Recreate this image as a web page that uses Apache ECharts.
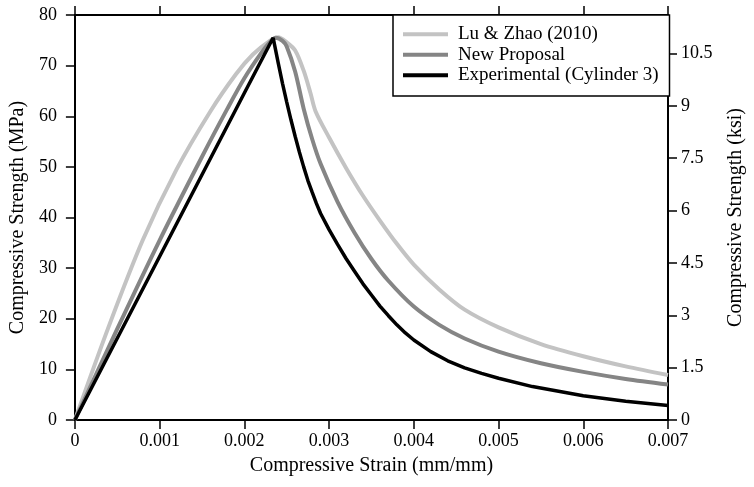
<!DOCTYPE html>
<html>
<head>
<meta charset="utf-8">
<script src="https://cdn.jsdelivr.net/npm/echarts@6/dist/echarts.min.js"></script>
<style>
  html, body { margin: 0; padding: 0; background: #fff; }
  #chart { width: 754px; height: 487px; }
</style>
</head>
<body>
<div id="chart"></div>
<script>
// 曲线数据 (strain mm/mm, stress MPa)
const luZhaoStrain = [0, 0.0004, 0.0008, 0.0012, 0.0016, 0.0019, 0.0021, 0.0023, 0.0024, 0.0025, 0.0026, 0.0027, 0.00278, 0.00284, 0.003, 0.0032, 0.0034, 0.0036, 0.0038, 0.004, 0.0043, 0.0046, 0.005, 0.0055, 0.006, 0.0065, 0.007]
const luZhaoStress = [0, 18.5, 35.5, 49.5, 61, 68.3, 72.2, 74.9, 75.6, 74.6, 73.0, 69.0, 64.6, 61.0, 55.8, 49.8, 44.3, 39.4, 34.8, 30.7, 25.8, 21.8, 18.3, 15.0, 12.6, 10.6, 8.9]

const proposalStrain = [0, 0.0005, 0.001, 0.0015, 0.0018, 0.002, 0.0022, 0.0023, 0.00237, 0.00245, 0.0025, 0.0026, 0.0027, 0.0028, 0.0029, 0.0031, 0.0033, 0.0035, 0.0037, 0.004, 0.0043, 0.0046, 0.005, 0.0055, 0.006, 0.0065, 0.007]
const proposalStress = [0, 18, 35.5, 52, 61.5, 67.5, 72.5, 74.6, 75.5, 74.9, 73.8, 68.8, 61.5, 55.5, 50.6, 43.1, 37.0, 31.8, 27.5, 22.4, 18.8, 16.1, 13.5, 11.2, 9.5, 8.1, 7.0]

const expStrain = [0, 0.001, 0.002, 0.00234, 0.0024, 0.00245, 0.0025, 0.00255, 0.0026, 0.00265, 0.0027, 0.00275, 0.0028, 0.00285, 0.0029, 0.003, 0.0031, 0.0032, 0.0033, 0.0034, 0.0035, 0.0036, 0.0037, 0.0038, 0.0039, 0.004, 0.0042, 0.0044, 0.0046, 0.0048, 0.005, 0.0054, 0.006, 0.0065, 0.007]
const expStress = [0, 32.3, 64.6, 75.5, 70.5, 66.5, 62.8, 59.3, 56.0, 52.9, 50.0, 47.3, 45.0, 42.8, 40.8, 37.6, 34.7, 31.9, 29.4, 26.9, 24.7, 22.5, 20.6, 18.8, 17.2, 15.8, 13.5, 11.7, 10.3, 9.2, 8.25, 6.6, 4.8, 3.7, 2.85]

const seriesNames = ['Lu & Zhao (2010)', 'New Proposal', 'Experimental (Cylinder 3)']
const ksiTicks = [0, 1.5, 3, 4.5, 6, 7.5, 9, 10.5]
const MPA_PER_KSI = 6.894757

const pairs = (xs, ys) => xs.map((x, i) => [x, ys[i]])

const chart = echarts.init(document.getElementById('chart'))
const font = 'Liberation Serif'
const axisLine = { show: true, onZero: false, lineStyle: { color: '#000', width: 2 } }
const axisTick = { show: true, inside: false, length: 9, lineStyle: { color: '#000', width: 1.5 } }
const labelStyle = { fontFamily: font, fontSize: 18, color: '#000' }
const nameStyle = { fontFamily: font, fontSize: 20, color: '#000' }

const option = {
  animation: false,
  textStyle: { fontFamily: font },
  grid: { left: 73, right: 85, top: 15, bottom: 67 },
  legend: {
    data: seriesNames,
    orient: 'vertical',
    left: 393,
    top: 15,
    padding: [9.3, 11, 10.7, 10],
    itemGap: 0.5,
    itemWidth: 45,
    itemHeight: 4,
    icon: 'rect',
    backgroundColor: '#fff',
    borderColor: '#000',
    borderWidth: 1.5,
    textStyle: { fontFamily: font, fontSize: 19, color: '#000', lineHeight: 20, padding: [0, 0, 0, 5] }
  },
  xAxis: [
    {
      type: 'value',
      min: 0,
      max: 0.007,
      interval: 0.001,
      name: 'Compressive Strain (mm/mm)',
      nameLocation: 'middle',
      nameGap: 36,
      nameTextStyle: nameStyle,
      axisLine: axisLine,
      axisTick: axisTick,
      axisLabel: Object.assign({ margin: 12 }, labelStyle),
      splitLine: { show: false }
    },
    {
      // 上边框
      type: 'value',
      position: 'top',
      min: 0,
      max: 0.007,
      interval: 0.001,
      axisLine: axisLine,
      axisTick: axisTick,
      axisLabel: { show: false },
      splitLine: { show: false }
    }
  ],
  yAxis: [
    {
      type: 'value',
      min: 0,
      max: 80,
      interval: 10,
      name: 'Compressive Strength (MPa)',
      nameLocation: 'middle',
      nameGap: 41,
      nameTextStyle: nameStyle,
      axisLine: axisLine,
      axisTick: axisTick,
      axisLabel: Object.assign({ margin: 18 }, labelStyle),
      splitLine: { show: false }
    },
    {
      // ksi 轴, 与 MPa 轴对齐
      type: 'value',
      position: 'right',
      min: 0,
      max: 80 / MPA_PER_KSI,
      name: 'Compressive Strength (ksi)',
      nameLocation: 'middle',
      nameGap: 58,
      nameTextStyle: nameStyle,
      axisLine: axisLine,
      axisTick: Object.assign({ customValues: ksiTicks }, axisTick),
      axisLabel: Object.assign({ margin: 13, customValues: ksiTicks }, labelStyle),
      splitLine: { show: false }
    }
  ],
  series: [
    {
      name: seriesNames[0],
      type: 'line',
      symbol: 'none',
      smooth: 0.3,
      lineStyle: { color: '#c3c3c3', width: 4 },
      itemStyle: { color: '#c3c3c3' },
      data: pairs(luZhaoStrain, luZhaoStress)
    },
    {
      name: seriesNames[1],
      type: 'line',
      symbol: 'none',
      smooth: 0.3,
      lineStyle: { color: '#858585', width: 4 },
      itemStyle: { color: '#858585' },
      data: pairs(proposalStrain, proposalStress)
    },
    {
      // 实验曲线峰值尖锐, 不做平滑
      name: seriesNames[2],
      type: 'line',
      symbol: 'none',
      smooth: false,
      lineStyle: { color: '#000', width: 3.5 },
      itemStyle: { color: '#000' },
      data: pairs(expStrain, expStress)
    }
  ]
}

chart.setOption(option)
</script>
</body>
</html>
